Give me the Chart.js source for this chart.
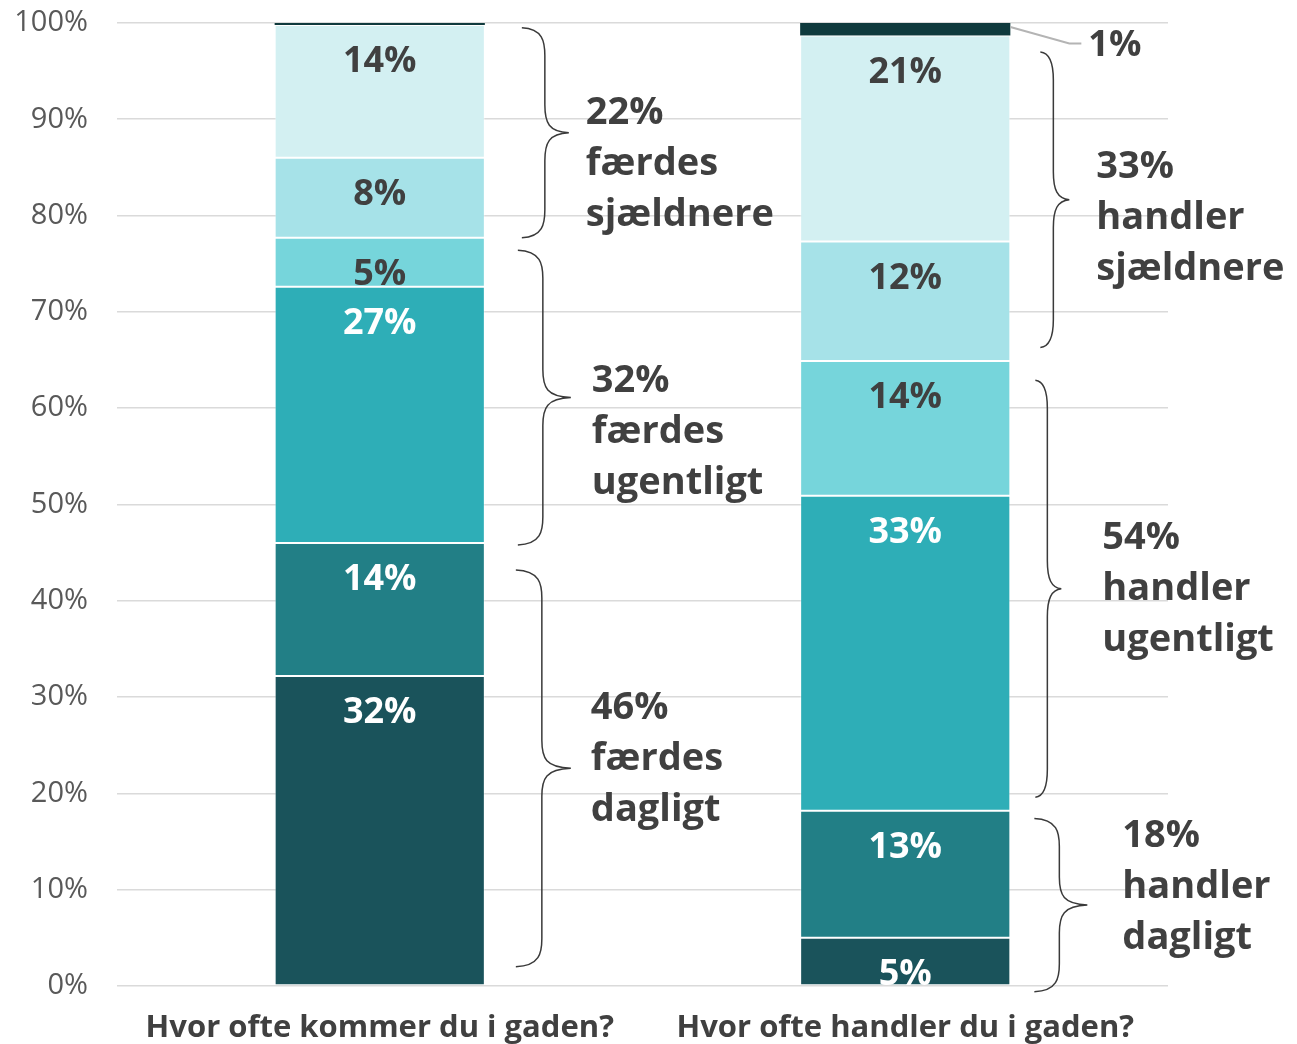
<!DOCTYPE html>
<html lang="da">
<head>
<meta charset="utf-8">
<title>Hvor ofte kommer og handler du i gaden?</title>
<script src="https://cdn.jsdelivr.net/npm/chart.js@4.4.1/dist/chart.umd.min.js"></script>
<style>
  html, body { margin: 0; padding: 0; background: #ffffff; }
  #wrap { width: 1297px; height: 1044px; }
</style>
</head>
<body>
<div id="wrap"><canvas id="chart" width="1297" height="1044"></canvas></div>
<script>
// Questions (one stacked bar each)
const categories = ['Hvor ofte kommer du i gaden?', 'Hvor ofte handler du i gaden?'];

// Answer shares in percent, bottom segment first
const hverDag        = [32.2, 5.0];
const flereGangeUge  = [13.8, 13.2];
const ugentligt      = [26.6, 32.7];
const hverAndenUge   = [5.1, 14.0];
const maanedligt     = [8.3, 12.4];
const sjaeldnere     = [13.8, 21.4];
const aldrig         = [0.2, 1.3];

const seriesNames  = ['Hver dag', 'Flere gange om ugen', 'Ugentligt', 'Hver anden uge', 'Månedligt', 'Sjældnere', 'Aldrig'];
const seriesValues = [hverDag, flereGangeUge, ugentligt, hverAndenUge, maanedligt, sjaeldnere, aldrig];

// Y axis ticks
const tickValues = [0, 10, 20, 30, 40, 50, 60, 70, 80, 90, 100];
const tickLabels = ['0%', '10%', '20%', '30%', '40%', '50%', '60%', '70%', '80%', '90%', '100%'];

// Grouping brackets beside the bars: bar index, value range and text
const groupBar   = [0, 0, 0, 1, 1, 1];
const groupFrom  = [77.7, 45.8, 2.0, 66.3, 19.6, -0.6];
const groupTo    = [99.5, 76.4, 43.2, 97.0, 62.9, 17.4];
const groupPct   = ['22%', '32%', '46%', '33%', '54%', '18%'];
const groupVerb  = ['færdes', 'færdes', 'færdes', 'handler', 'handler', 'handler'];
const groupFreq  = ['sjældnere', 'ugentligt', 'dagligt', 'sjældnere', 'ugentligt', 'dagligt'];

// ---- styling ----
const FONT = '"Open Sans", "Noto Sans", "Liberation Sans", sans-serif';
const DARK_TEXT = '#404040';
const segmentColors = ['#1a535b', '#227f86', '#2eaeb7', '#76d5db', '#a6e2e8', '#d3f0f2', '#0f3a3d'];
const segmentTextColors = ['#ffffff', '#ffffff', '#ffffff', DARK_TEXT, DARK_TEXT, DARK_TEXT, DARK_TEXT];

// bracket geometry, px right of the bar edge: curl end, spine, tip, text start
const bracketShape = [
  { end: 37, spine: 60, tip: 84, text: 101, textAt: 90.85 },
  { end: 33, spine: 58, tip: 86, text: 107, textAt: 63.1 },
  { end: 31, spine: 57, tip: 86, text: 106, textAt: 29.1 },
  { end: 30, spine: 43, tip: 59, text: 86,  textAt: 85.3 },
  { end: 25, spine: 37, tip: 51, text: 92,  textAt: 46.8 },
  { end: 24, spine: 49, tip: 77, text: 112, textAt: 15.8 }
];

const datasets = seriesValues.map((vals, i) => ({
  label: seriesNames[i],
  data: vals,
  backgroundColor: segmentColors[i],
  borderColor: 'rgba(255,255,255,0.4)',
  borderWidth: i === seriesValues.length - 1 ? 0 : 1,
  borderSkipped: false,
  categoryPercentage: 1.0,
  barPercentage: 0.4
}));

// Percentage labels on each segment
const segmentLabels = {
  id: 'segmentLabels',
  afterDatasetsDraw(chart) {
    const ctx = chart.ctx;
    const area = chart.chartArea;
    ctx.save();
    ctx.font = 'bold 36px ' + FONT;
    ctx.textBaseline = 'middle';
    chart.data.datasets.forEach((ds, di) => {
      const meta = chart.getDatasetMeta(di);
      meta.data.forEach((el, j) => {
        const v = ds.data[j];
        const r = Math.round(v);
        if (r < 1) return;
        const text = r + '%';
        const h = el.base - el.y;
        if (h < 20) {
          // small top segment: label outside with a leader line
          const right = el.x + el.width / 2;
          ctx.strokeStyle = '#b4b4b4';
          ctx.lineWidth = 2;
          ctx.beginPath();
          ctx.moveTo(right, el.y + 4);
          ctx.lineTo(right + 59, el.y + 20.5);
          ctx.lineTo(right + 71, el.y + 20.5);
          ctx.stroke();
          ctx.fillStyle = segmentTextColors[di];
          ctx.textAlign = 'left';
          ctx.fillText(text, right + 78, el.y + 23);
        } else {
          ctx.save();
          ctx.beginPath();
          ctx.rect(area.left, area.top, area.right - area.left, area.bottom - area.top);
          ctx.clip();
          ctx.fillStyle = segmentTextColors[di];
          ctx.textAlign = 'center';
          ctx.fillText(text, el.x, el.y + 37);
          ctx.restore();
        }
      });
    });
    ctx.restore();
  }
};

// Curly brackets with group text
const groupBrackets = {
  id: 'groupBrackets',
  afterDraw(chart) {
    const ctx = chart.ctx;
    const yScale = chart.scales.y;
    ctx.save();
    groupBar.forEach((bi, g) => {
      const el = chart.getDatasetMeta(0).data[bi];
      const right = el.x + el.width / 2;
      const s = bracketShape[g];
      const xEnd = right + s.end, xSpine = right + s.spine, xTip = right + s.tip;
      const yTop = yScale.getPixelForValue(groupTo[g]);
      const yBot = yScale.getPixelForValue(groupFrom[g]);
      const yMid = (yTop + yBot) / 2;
      const rv = Math.min(28, (yBot - yTop) / 4);
      ctx.strokeStyle = '#3a3a3a';
      ctx.lineWidth = 1.5;
      ctx.beginPath();
      ctx.moveTo(xEnd, yTop);
      ctx.bezierCurveTo(xSpine - 2, yTop + 1, xSpine, yTop + rv * 0.5, xSpine, yTop + rv);
      ctx.lineTo(xSpine, yMid - rv);
      ctx.bezierCurveTo(xSpine, yMid - rv * 0.35, xSpine + 4, yMid - 1, xTip, yMid);
      ctx.moveTo(xTip, yMid);
      ctx.bezierCurveTo(xSpine + 4, yMid + 1, xSpine, yMid + rv * 0.35, xSpine, yMid + rv);
      ctx.lineTo(xSpine, yBot - rv);
      ctx.bezierCurveTo(xSpine, yBot - rv * 0.5, xSpine - 2, yBot - 1, xEnd, yBot);
      ctx.stroke();

      ctx.fillStyle = DARK_TEXT;
      ctx.font = 'bold 38px ' + FONT;
      ctx.textAlign = 'left';
      ctx.textBaseline = 'middle';
      const y0 = yScale.getPixelForValue(s.textAt) + 2.5;
      const lines = [groupPct[g], groupVerb[g], groupFreq[g]];
      lines.forEach((t, k) => ctx.fillText(t, right + s.text, y0 + k * 51));
    });
    ctx.restore();
  }
};

new Chart(document.getElementById('chart'), {
  type: 'bar',
  data: { labels: categories, datasets },
  plugins: [segmentLabels, groupBrackets],
  options: {
    responsive: false,
    animation: false,
    layout: { padding: { top: 23, right: 129, left: 0, bottom: 0 } },
    plugins: { legend: { display: false }, tooltip: { enabled: false } },
    scales: {
      x: {
        stacked: true,
        grid: { display: false, drawTicks: false },
        border: { display: false },
        ticks: { color: DARK_TEXT, font: { family: FONT, size: 31, weight: 'bold' }, padding: 24, maxRotation: 0 },
        afterFit(scale) { scale.height = 58; }
      },
      y: {
        stacked: true,
        min: 0,
        max: 100,
        afterBuildTicks(scale) { scale.ticks = tickValues.map(v => ({ value: v })); },
        grid: { color: '#dadada', lineWidth: 1.6, drawTicks: false },
        border: { display: false },
        ticks: {
          color: '#595959',
          font: { family: FONT, size: 29 },
          padding: 29,
          callback: (v) => tickLabels[tickValues.indexOf(v)]
        },
        afterFit(scale) {
          scale.width = 117;
          scale.paddingTop = 0;
          scale.paddingBottom = 0;
        }
      }
    }
  }
});
</script>
</body>
</html>
